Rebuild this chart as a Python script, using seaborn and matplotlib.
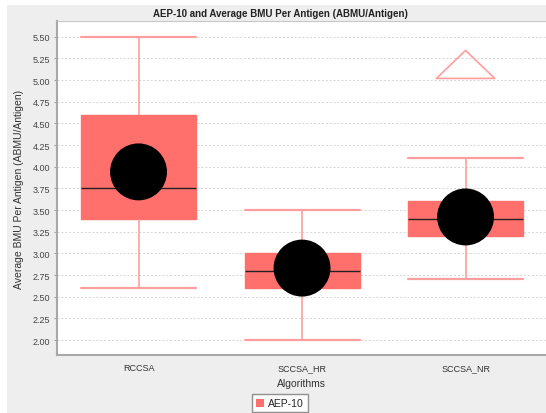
import numpy as np
import pandas as pd
import seaborn as sns
from matplotlib import pyplot as plt
from matplotlib.patches import Patch, Rectangle
from matplotlib.path import Path

# values
algorithms = ['RCCSA', 'SCCSA_HR', 'SCCSA_NR']
whisker_low = [2.60, 2.00, 2.70]
q1 = [3.40, 2.60, 3.20]
median = [3.75, 2.80, 3.40]
q3 = [4.60, 3.00, 3.60]
whisker_high = [5.50, 3.50, 4.10]
means = [3.94, 2.83, 3.42]
far_out_alg = ['SCCSA_NR']
far_out_val = [5.18]
y_ticks = [2.00, 2.25, 2.50, 2.75, 3.00, 3.25, 3.50, 3.75, 4.00, 4.25, 4.50, 4.75, 5.00, 5.25, 5.50]

box_color = '#FF6F6B'
whisk_color = '#FF9E9E'

# five points per algorithm reproduce the five-number summary exactly
rows = []
for i, alg in enumerate(algorithms):
    for v in (whisker_low[i], q1[i], median[i], q3[i], whisker_high[i]):
        rows.append({'Algorithms': alg, 'value': v})
df = pd.DataFrame(rows)
df_mean = pd.DataFrame({'Algorithms': algorithms, 'value': means})
df_far = pd.DataFrame({'Algorithms': far_out_alg, 'value': far_out_val})

sns.set_style('white')
plt.rcParams['font.family'] = ['Liberation Sans', 'DejaVu Sans']

W, H = 546, 414
fig = plt.figure(figsize=(W / 100, H / 100), dpi=100)
fig.patch.set_facecolor('white')
fig.patches.append(Rectangle((7 / W, 0), 1, 1 - 6 / H, transform=fig.transFigure,
                             facecolor='#EEEEEE', edgecolor='none', zorder=-10))

ax = fig.add_axes([57 / W, 1 - 356 / H, 1 - 57 / W, (356 - 22) / H])
ax.set_facecolor('white')

sns.boxplot(data=df, x='Algorithms', y='value', order=algorithms, ax=ax,
            color=box_color, width=0.703, whis=(0, 100), showfliers=False,
            saturation=1, linewidth=1,
            boxprops={'facecolor': box_color, 'edgecolor': box_color},
            medianprops={'color': '#222222', 'linewidth': 1},
            whiskerprops={'color': whisk_color, 'linewidth': 1.2},
            capprops={'color': whisk_color, 'linewidth': 1.6},
            capwidths=0.703)

sns.scatterplot(data=df_mean, x='Algorithms', y='value', ax=ax, color='black',
                s=41 ** 2, marker='o', edgecolor='none', zorder=5, legend=False)

# JFreeChart style "far out" triangle
tri = Path([(-1, -0.48), (1, -0.48), (0, 0.48), (-1, -0.48)],
           [Path.MOVETO, Path.LINETO, Path.LINETO, Path.CLOSEPOLY])
sns.scatterplot(data=df_far, x='Algorithms', y='value', ax=ax, marker=tri,
                s=42 ** 2, facecolor='none', edgecolor=whisk_color, linewidth=1.2,
                zorder=5, legend=False)

ax.set_xlim(-0.4985, 2.492)
ax.set_ylim(1.827, 5.681)
ax.set_yticks(y_ticks)
ax.set_yticklabels(['{:.2f}'.format(t) for t in y_ticks])
ax.yaxis.grid(True, color='#D4D4D4', linestyle=(0, (2, 2)), linewidth=0.7)
ax.xaxis.grid(False)
ax.set_axisbelow(True)

ax.tick_params(axis='y', labelsize=6.5, labelcolor='#444444', length=2, color='#A0A0A0',
               left=True, pad=3)
ax.tick_params(axis='x', labelsize=6.5, labelcolor='#333333', length=0, pad=6)
ax.set_xlabel('Algorithms', fontsize=7.5, color='#333333', labelpad=4)
ax.set_ylabel('Average BMU Per Antigen (ABMU/Antigen)', fontsize=7.5, color='#333333',
              labelpad=6)

for side in ['left', 'bottom']:
    ax.spines[side].set_color('#A8A8A8')
    ax.spines[side].set_linewidth(1.5)
ax.spines['top'].set_color('#C8C8C8')
ax.spines['top'].set_linewidth(0.8)
ax.spines['right'].set_visible(False)

fig.text(280 / W, 1 - 14 / H, 'AEP-10 and Average BMU Per Antigen (ABMU/Antigen)',
         ha='center', va='center', fontsize=7, fontweight='bold', color='#222222')

leg = fig.legend(handles=[Patch(facecolor=box_color, edgecolor='none', label='AEP-10')],
                 loc='upper center', bbox_to_anchor=(280 / W, 1 - 395 / H),
                 fontsize=7.5, frameon=True, fancybox=False, handlelength=0.8,
                 handleheight=0.8, handletextpad=0.4, borderpad=0.4, borderaxespad=0)
leg.get_frame().set_edgecolor('#777777')
leg.get_frame().set_linewidth(1)

fig.savefig('out.png', dpi=100)
